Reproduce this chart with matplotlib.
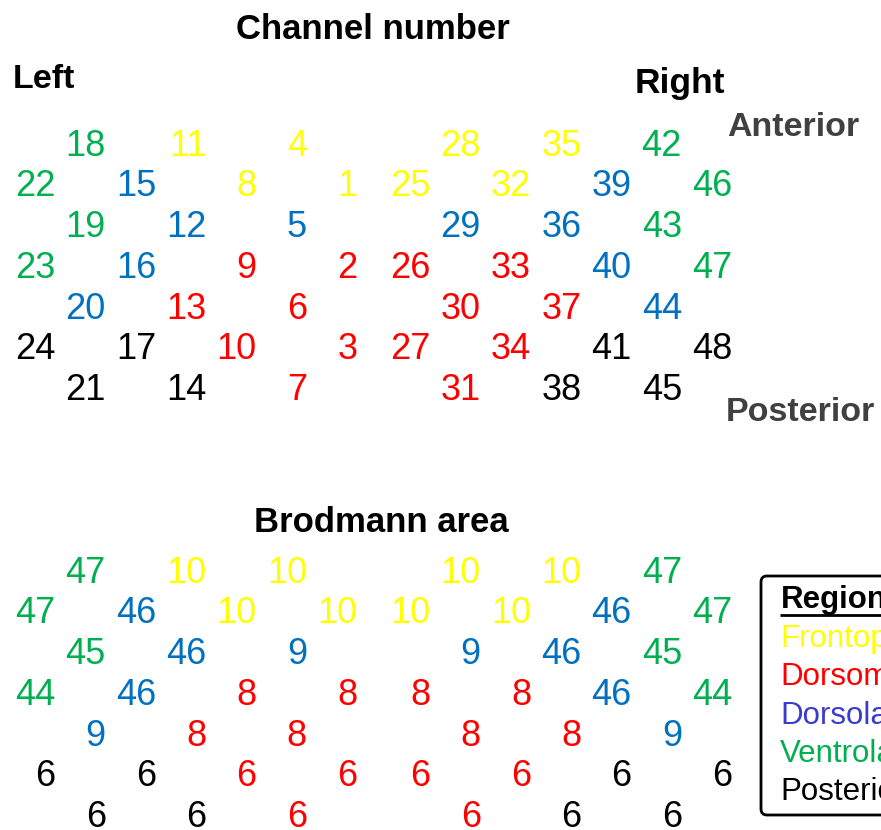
import matplotlib
matplotlib.use("Agg")
import matplotlib.pyplot as plt
from matplotlib.patches import FancyBboxPatch

plt.rcParams['font.family'] = ['Liberation Sans', 'DejaVu Sans']

# ---- data -------------------------------------------------------------
# Each row: left hemisphere entries then right hemisphere entries.
# Rows 0,2,4,6 have 3+3 entries, rows 1,3,5 have 4+4 entries.
channels = [
    [18, 11, 4, 28, 35, 42],
    [22, 15, 8, 1, 25, 32, 39, 46],
    [19, 12, 5, 29, 36, 43],
    [23, 16, 9, 2, 26, 33, 40, 47],
    [20, 13, 6, 30, 37, 44],
    [24, 17, 10, 3, 27, 34, 41, 48],
    [21, 14, 7, 31, 38, 45],
]
regions = [  # F=frontopolar, M=dorsomedial, D=dorsolateral, V=ventrolateral, P=posterior
    ['V', 'F', 'F', 'F', 'F', 'V'],
    ['V', 'D', 'F', 'F', 'F', 'F', 'D', 'V'],
    ['V', 'D', 'D', 'D', 'D', 'V'],
    ['V', 'D', 'M', 'M', 'M', 'M', 'D', 'V'],
    ['D', 'M', 'M', 'M', 'M', 'D'],
    ['P', 'P', 'M', 'M', 'M', 'M', 'P', 'P'],
    ['P', 'P', 'M', 'M', 'P', 'P'],
]
brodmann = [
    [47, 10, 10, 10, 10, 47],
    [47, 46, 10, 10, 10, 10, 46, 47],
    [45, 46, 9, 9, 46, 45],
    [44, 46, 8, 8, 8, 8, 46, 44],
    [9, 8, 8, 8, 8, 9],
    [6, 6, 6, 6, 6, 6, 6, 6],
    [6, 6, 6, 6, 6, 6],
]
legend_labels = ['Frontopolar', 'Dorsomedial', 'Dorsolateral', 'Ventrolateral', 'Posterior']
legend_keys = ['F', 'M', 'D', 'V', 'P']

num_colors = {'F': '#FFFF00', 'M': '#FF0000', 'D': '#0070C0', 'V': '#00B050', 'P': '#000000'}
leg_colors = {'F': '#FFFF00', 'M': '#FF0000', 'D': '#3B3BD0', 'V': '#00B050', 'P': '#000000'}

# ---- layout -------------------------------------------------------------
W, H = 881, 830
fig = plt.figure(figsize=(W / 100, H / 100), dpi=100)
ax = fig.add_axes([0, 0, 1, 1])
ax.set_xlim(0, W)
ax.set_ylim(H, 0)
ax.axis('off')

left_x0, right_x0, half_step = 55.5, 430.5, 50.3
row_step = 40.75
num_fs = 26


def slot_x(row, idx):
    n = len(channels[row])
    half = n // 2
    side_x0 = left_x0 if idx < half else right_x0
    j = idx if idx < half else idx - half
    k = 2 * j + (1 if n == 6 else 0)
    return side_x0 + k * half_step


def draw_grid(values, y0):
    for r, row in enumerate(values):
        for i, v in enumerate(row):
            ax.text(slot_x(r, i), y0 + r * row_step, str(v), ha='right', va='baseline',
                    fontsize=num_fs, color=num_colors[regions[r][i]])


# top panel
ax.text(373, 39, 'Channel number', ha='center', va='baseline', fontsize=25, fontweight='bold')
ax.text(13, 88, 'Left', ha='left', va='baseline', fontsize=24.5, fontweight='bold')
ax.text(635, 93, 'Right', ha='left', va='baseline', fontsize=25.5, fontweight='bold')
ax.text(727, 136, 'Anterior', ha='left', va='baseline', fontsize=24.5, fontweight='bold', color='#404040')
ax.text(726, 421, 'Posterior', ha='left', va='baseline', fontsize=24.5, fontweight='bold', color='#404040')
draw_grid(channels, 155.5)

# bottom panel
ax.text(381, 532, 'Brodmann area', ha='center', va='baseline', fontsize=25, fontweight='bold')
draw_grid(brodmann, 582.5)

# legend box
box = FancyBboxPatch((761, 576), 200, 239, boxstyle='round,pad=0,rounding_size=6',
                     fc='white', ec='black', lw=2, clip_on=False)
ax.add_patch(box)
ax.text(781, 608, 'Region', ha='left', va='baseline', fontsize=22.5, fontweight='bold')
ax.plot([780, 900], [615, 615], color='black', lw=2, solid_capstyle='butt')
for i, (lab, key) in enumerate(zip(legend_labels, legend_keys)):
    ax.text(780, 647 + i * 38.3, lab, ha='left', va='baseline', fontsize=22.5, color=leg_colors[key])

fig.savefig('out.png', dpi=100)
